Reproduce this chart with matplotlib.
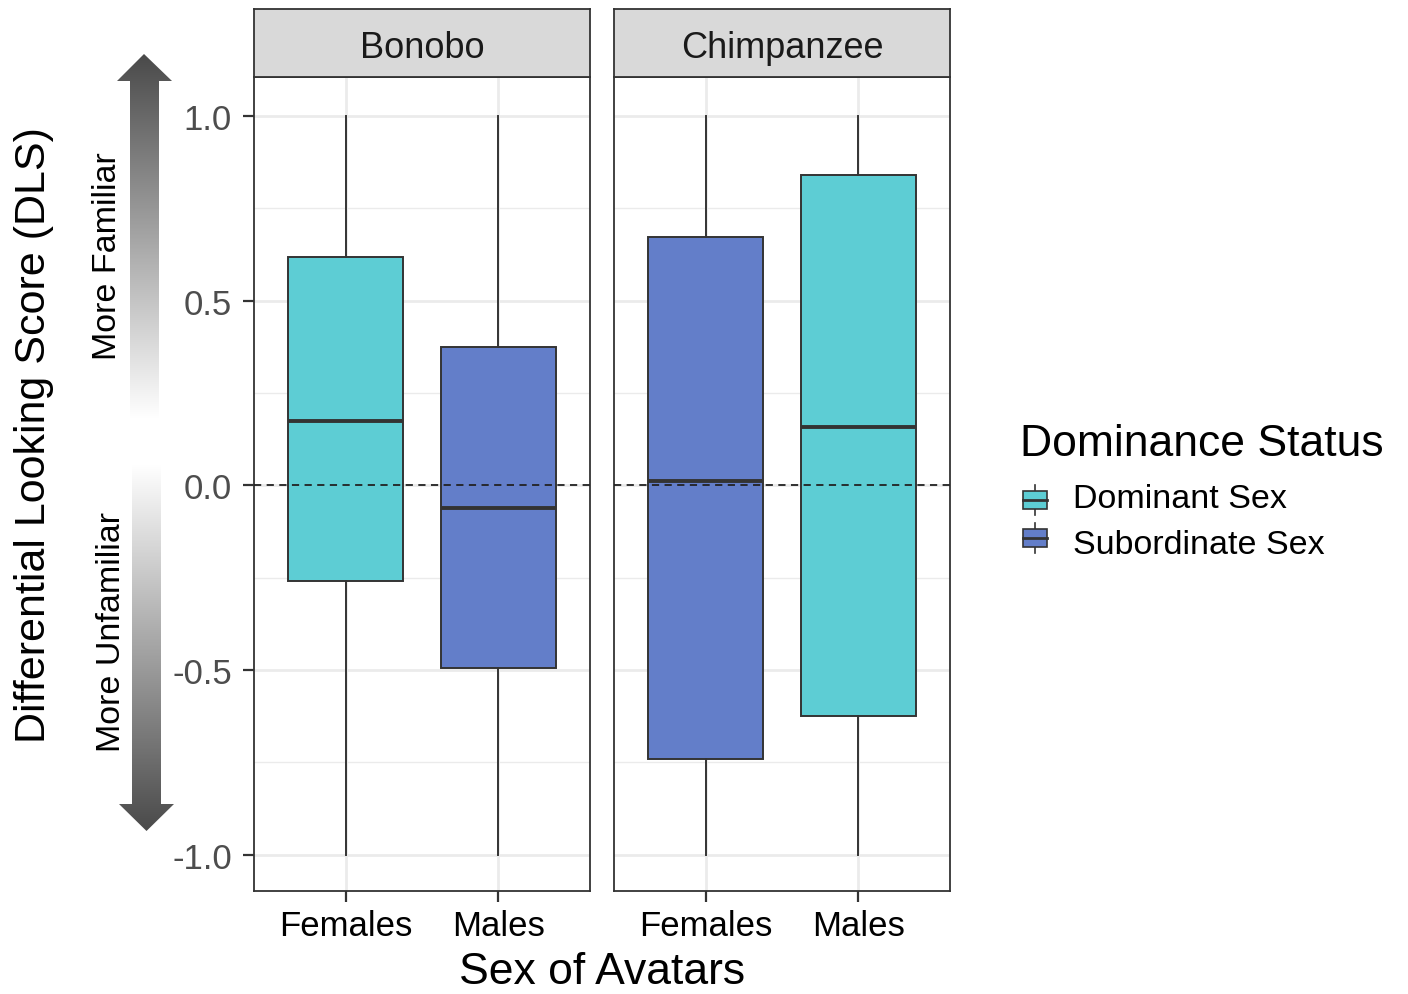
import numpy as np
import matplotlib
matplotlib.use("Agg")
import matplotlib.pyplot as plt
from matplotlib.patches import Polygon, Rectangle
from matplotlib.colors import LinearSegmentedColormap

plt.rcParams['font.family'] = ['Liberation Sans', 'DejaVu Sans']

# data
species = ["Bonobo", "Chimpanzee"]
sexes = ["Females", "Males"]
status = [["Dominant Sex", "Subordinate Sex"],
          ["Subordinate Sex", "Dominant Sex"]]
whis_lo = [[-1.0, -1.0], [-1.0, -1.0]]
q1 = [[-0.258, -0.495], [-0.741, -0.625]]
median = [[0.175, -0.061], [0.012, 0.157]]
q3 = [[0.618, 0.375], [0.671, 0.840]]
whis_hi = [[1.0, 1.0], [1.0, 1.0]]
status_names = ["Dominant Sex", "Subordinate Sex"]
status_colors = {"Dominant Sex": "#5DCDD4", "Subordinate Sex": "#637EC9"}
y_ticks = [-1.0, -0.5, 0.0, 0.5, 1.0]
y_minor = [-0.75, -0.25, 0.25, 0.75]

W, H = 1408, 995
fig = plt.figure(figsize=(W / 100, H / 100), dpi=100)

def fx(px):
    return px / W

def fy(py):
    return 1 - py / H

# overlay in pixel coords for arrows / legend
ov = fig.add_axes([0, 0, 1, 1])
ov.set_xlim(0, W)
ov.set_ylim(H, 0)
ov.axis("off")

edge = "#333333"
panel_left = [254, 614]
panel_w = 336
top, bottom = 78, 892

for i, sp in enumerate(species):
    ax = fig.add_axes([fx(panel_left[i]), fy(bottom), panel_w / W, (bottom - top) / H])
    stats = []
    for j in range(len(sexes)):
        stats.append(dict(whislo=whis_lo[i][j], q1=q1[i][j], med=median[i][j],
                          q3=q3[i][j], whishi=whis_hi[i][j], fliers=[]))
    bp = ax.bxp(stats, positions=[1, 2], widths=0.75, patch_artist=True,
                showcaps=False, showfliers=False,
                boxprops=dict(edgecolor=edge, linewidth=1.4),
                whiskerprops=dict(color=edge, linewidth=1.4),
                medianprops=dict(color=edge, linewidth=2.8, solid_capstyle="butt"),
                zorder=3)
    for j, box in enumerate(bp["boxes"]):
        box.set_facecolor(status_colors[status[i][j]])
    ax.axhline(0, color="#222222", linewidth=1.3, linestyle=(0, (4, 3)), zorder=4)
    ax.set_xlim(0.4, 2.6)
    ax.set_ylim(-1.098, 1.105)
    ax.set_xticks([1, 2])
    ax.set_xticklabels(sexes, fontsize=25, color="black")
    ax.set_yticks(y_ticks)
    ax.set_yticks(y_minor, minor=True)
    if i == 0:
        ax.set_yticklabels([f"{v:.1f}" for v in y_ticks], fontsize=25, color="#4D4D4D")
    else:
        ax.tick_params(axis="y", which="both", left=False, labelleft=False)
    ax.tick_params(axis="both", which="major", direction="out", length=8, width=1.6,
                   color=edge, pad=8)
    ax.tick_params(axis="x", pad=5)
    ax.tick_params(axis="y", which="minor", left=False)
    ax.grid(True, which="major", color="#EBEBEB", linewidth=2.0, zorder=0)
    ax.grid(True, which="minor", axis="y", color="#EBEBEB", linewidth=1.0, zorder=0)
    ax.set_axisbelow(True)
    for s in ax.spines.values():
        s.set_color(edge)
        s.set_linewidth(1.3)
    # strip
    st = fig.add_axes([fx(panel_left[i]), fy(top), panel_w / W, (top - 10) / H])
    st.set_facecolor("#D9D9D9")
    st.set_xticks([])
    st.set_yticks([])
    for s in st.spines.values():
        s.set_color(edge)
        s.set_linewidth(1.3)
    st.text(0.5, 0.44, sp, ha="center", va="center", fontsize=26, color="#1A1A1A",
            transform=st.transAxes)

# gradient arrows
cmap_up = LinearSegmentedColormap.from_list("up", ["#4A4A4A", "#FFFFFF"])
grad = np.linspace(0, 1, 256).reshape(-1, 1)

up = Polygon([(144, 55), (172, 82), (159, 82), (159, 420), (130, 420), (130, 82), (117, 82)],
             closed=True, facecolor="none", edgecolor="none")
ov.add_patch(up)
im = ov.imshow(grad, cmap=cmap_up, extent=(117, 172, 420, 55), aspect="auto", zorder=1)
im.set_clip_path(up)

dn = Polygon([(146.5, 832), (174, 805), (161, 805), (161, 465), (132, 465), (132, 805), (119, 805)],
             closed=True, facecolor="none", edgecolor="none")
ov.add_patch(dn)
im2 = ov.imshow(grad[::-1], cmap=cmap_up, extent=(119, 174, 832, 465), aspect="auto", zorder=1)
im2.set_clip_path(dn)
ov.set_xlim(0, W)
ov.set_ylim(H, 0)

fig.text(fx(108), fy(256), "More Familiar", rotation=90, ha="center", va="center",
         fontsize=24.5, color="black")
fig.text(fx(111), fy(632), "More Unfamiliar", rotation=90, ha="center", va="center",
         fontsize=24.5, color="black")
fig.text(fx(34), fy(435), "Differential Looking Score (DLS)", rotation=90,
         ha="center", va="center", fontsize=31)
fig.text(fx(602), fy(984), "Sex of Avatars", ha="center", va="baseline", fontsize=32)

# legend
fig.text(fx(1020), fy(444), "Dominance Status", ha="left", va="center", fontsize=32)
key_y = [501, 539]
text_y = [499, 545]
for k, name in enumerate(status_names):
    cy = key_y[k]
    ov.plot([1035, 1035], [cy - 15, cy + 15], color=edge, linewidth=1.2, zorder=2)
    ov.add_patch(Rectangle((1023, cy - 9), 24, 18, facecolor=status_colors[name],
                           edgecolor=edge, linewidth=1.2, zorder=3))
    ov.plot([1023, 1047], [cy, cy], color=edge, linewidth=2.0, zorder=4)
    fig.text(fx(1073), fy(text_y[k]), name, ha="left", va="center", fontsize=24.5)

fig.savefig("out.png", dpi=100)
